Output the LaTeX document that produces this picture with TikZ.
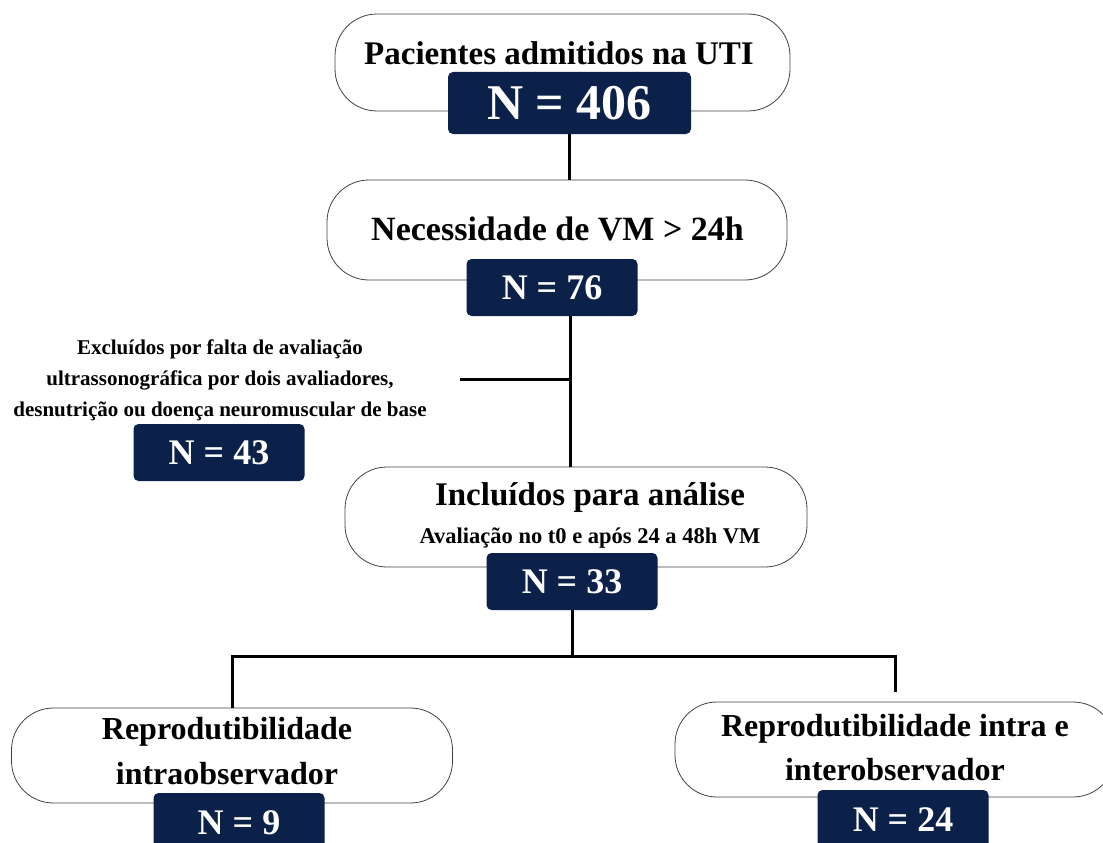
\documentclass[tikz,border=0pt]{standalone}
\usepackage{fontspec}
\setmainfont{Liberation Serif}
\usepackage{tikz}
\definecolor{navy}{HTML}{0B2149}

\begin{document}
\begin{tikzpicture}[x=1pt, y=-1pt]

    % Define styles
    \tikzstyle{stage} = [
        draw=black!75, line width=0.8pt,
        rounded corners=42pt, fill=white
    ]
    \tikzstyle{count} = [
        fill=navy, rounded corners=5pt, text=white, inner sep=0pt,
        minimum width=171pt, minimum height=57pt,
        font=\bfseries\fontsize{36}{40}\selectfont
    ]
    \tikzstyle{title} = [inner sep=0pt, font=\bfseries\fontsize{33}{40}\selectfont]
    \tikzstyle{note} = [inner sep=0pt, align=center, font=\bfseries\fontsize{21}{31}\selectfont]
    \tikzstyle{link} = [line width=3pt]

    \useasboundingbox (0,0) rectangle (1103,843);

    % Stages
    \node[stage, minimum width=455pt, minimum height=97pt] (admitted) at (562.5,62.5) {};
    \node[stage, minimum width=460pt, minimum height=100pt] (needvm) at (557,230) {};
    \node[stage, minimum width=462pt, minimum height=100pt] (included) at (576,517) {};
    \node[stage, minimum width=441pt, minimum height=95pt] (intra) at (232,755.5) {};
    \node[stage, minimum width=440pt, minimum height=95pt] (inter) at (895,749.5) {};

    % Texts
    \node[title, anchor=base] (admittedtxt) at (559,65) {Pacientes admitidos na UTI};
    \node[title, anchor=base, font=\bfseries\fontsize{34}{40}\selectfont] (needvmtxt) at (557.5,240) {Necessidade de VM > 24h};
    \node[title, anchor=base] (includedtxt) at (590,505) {Incluídos para análise};
    \node[title, anchor=base, font=\bfseries\fontsize{22.5}{28}\selectfont] (includedsub) at (590,543) {Avaliação no t0 e após 24 a 48h VM};
    \node[note] (excluded) at (220,380) {Excluídos por falta de avaliação\\
        ultrassonográfica por dois avaliadores,\\
        desnutrição ou doença neuromuscular de base};
    \node[title, align=center, font=\bfseries\fontsize{32}{45}\selectfont] (intratxt) at (227,751.5) {Reprodutibilidade\\ intraobservador};
    \node[title, align=center, font=\bfseries\fontsize{32}{44}\selectfont] (intertxt) at (895,747.5) {Reprodutibilidade intra e\\ interobservador};

    % Counts
    \node[count, minimum width=243pt, minimum height=62pt, font=\bfseries\fontsize{50}{56}\selectfont] (n406) at (569.5,103) {N = 406};
    \node[count] (n76) at (552,287.5) {N = 76};
    \node[count] (n43) at (219,452.5) {N = 43};
    \node[count] (n33) at (572,581.5) {N = 33};
    \node[count, minimum height=60pt] (n9) at (239,823) {N = 9};
    \node[count, minimum height=60pt] (n24) at (903,820) {N = 24};

    % Connectors
    \coordinate (split) at (570,379);
    \coordinate (cut) at (460,379);
    \coordinate (fork) at (572,656);
    \coordinate (interend) at (895,692);
    \draw[link] (n406.south) -- (n406.south |- needvm.north);
    \draw[link] (n76.south -| split) -- (split |- included.north);
    \draw[link] (cut) -- (split);
    \draw[link] (n33.south) -- (fork);
    \draw[link] (intra.north) |- (fork) -| (interend);

\end{tikzpicture}
\end{document}
